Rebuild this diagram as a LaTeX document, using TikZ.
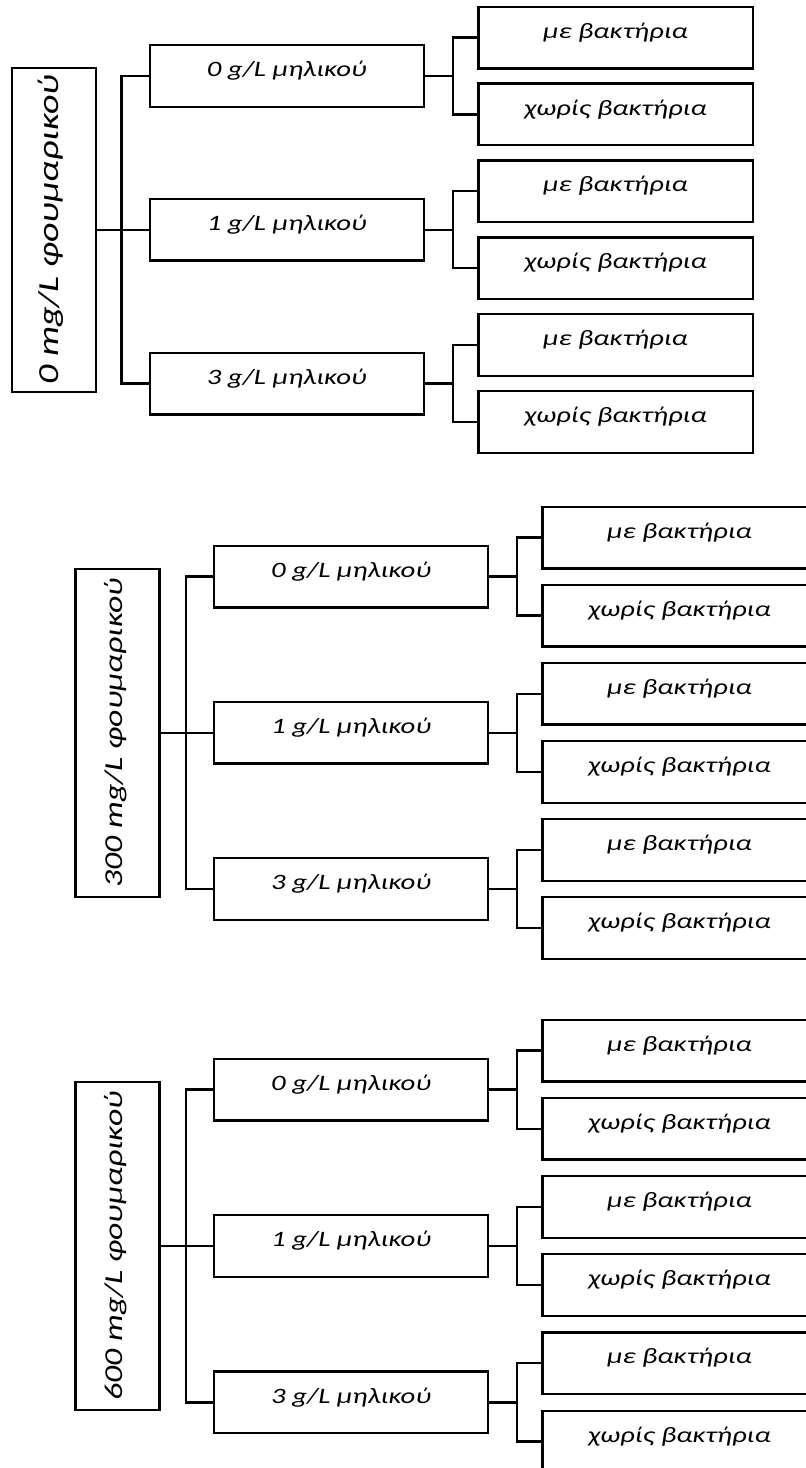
\documentclass[tikz,border=0pt]{standalone}
\usepackage{fontspec}
\newfontfamily\labelfont{Carlito}[FakeStretch=1.31]
\usepackage{tikz}

\tikzset{
  dose/.style 2 args={draw, line width=2.3pt, rotate=90, inner sep=0pt,
    font=\labelfont\itshape\fontsize{#2}{#2}\selectfont,
    text height=46.6pt, text depth=37.4pt, minimum width=#1},
  malic/.style={draw, line width=2.3pt, inner ysep=0pt, minimum width=274.3pt,
    font=\labelfont\itshape\fontsize{22}{26}\selectfont,
    text height=31.5pt, text depth=30.2pt},
  bact/.style={malic},
  link/.style={line width=2.3pt}
}

\begin{document}
\begin{tikzpicture}[x=1pt, y=-1pt]
    \clip (0,0) rectangle (806,1468);

    % 0 mg/L
    \node[dose={324pt}{29.1}] (f0) at (53.7,229.75) {0 mg/L φουμαρικού};
    \node[malic] (a01) at (286.85,75.95) {0 g/L μηλικού};
    \node[malic] (a02) at (286.85,229.75) {1 g/L μηλικού};
    \node[malic] (a03) at (286.85,383.55) {3 g/L μηλικού};
    \node[bact] (b01) at (615.5,37.5) {με βακτήρια};
    \node[bact] (b02) at (615.5,114.4) {χωρίς βακτήρια};
    \node[bact] (b03) at (615.5,191.3) {με βακτήρια};
    \node[bact] (b04) at (615.5,268.2) {χωρίς βακτήρια};
    \node[bact] (b05) at (615.5,345.1) {με βακτήρια};
    \node[bact] (b06) at (615.5,422) {χωρίς βακτήρια};
    \draw[link] (f0.south) -- (a02.west);
    \draw[link] (a01.west) -- ++(-27pt,0) |- (a03.west);
    \draw[link] (a01.east) -- ++(27.7pt,0) coordinate (c01) |- (b01.west) (c01) |- (b02.west);
    \draw[link] (a02.east) -- ++(27.7pt,0) coordinate (c02) |- (b03.west) (c02) |- (b04.west);
    \draw[link] (a03.east) -- ++(27.7pt,0) coordinate (c03) |- (b05.west) (c03) |- (b06.west);

    % 300 mg/L
    \node[dose={328pt}{25.8}] (f300) at (117.5,732.75) {300 mg/L φουμαρικού};
    \node[malic] (a31) at (351.15,576.55) {0 g/L μηλικού};
    \node[malic] (a32) at (351.15,732.75) {1 g/L μηλικού};
    \node[malic] (a33) at (351.15,888.95) {3 g/L μηλικού};
    \node[bact] (b31) at (679.5,537.5) {με βακτήρια};
    \node[bact] (b32) at (679.5,615.6) {χωρίς βακτήρια};
    \node[bact] (b33) at (679.5,693.7) {με βακτήρια};
    \node[bact] (b34) at (679.5,771.8) {χωρίς βακτήρια};
    \node[bact] (b35) at (679.5,849.9) {με βακτήρια};
    \node[bact] (b36) at (679.5,928) {χωρίς βακτήρια};
    \draw[link] (f300.south) -- (a32.west);
    \draw[link] (a31.west) -- ++(-27pt,0) |- (a33.west);
    \draw[link] (a31.east) -- ++(27.7pt,0) coordinate (c31) |- (b31.west) (c31) |- (b32.west);
    \draw[link] (a32.east) -- ++(27.7pt,0) coordinate (c32) |- (b33.west) (c32) |- (b34.west);
    \draw[link] (a33.east) -- ++(27.7pt,0) coordinate (c33) |- (b35.west) (c33) |- (b36.west);

    % 600 mg/L
    \node[dose={328pt}{25.8}] (f600) at (117.5,1246) {600 mg/L φουμαρικού};
    \node[malic] (a61) at (351.15,1089.6) {0 g/L μηλικού};
    \node[malic] (a62) at (351.15,1246) {1 g/L μηλικού};
    \node[malic] (a63) at (351.15,1402.4) {3 g/L μηλικού};
    \node[bact] (b61) at (679.5,1050.5) {με βακτήρια};
    \node[bact] (b62) at (679.5,1128.7) {χωρίς βακτήρια};
    \node[bact] (b63) at (679.5,1206.9) {με βακτήρια};
    \node[bact] (b64) at (679.5,1285.1) {χωρίς βακτήρια};
    \node[bact] (b65) at (679.5,1363.3) {με βακτήρια};
    \node[bact] (b66) at (679.5,1441.5) {χωρίς βακτήρια};
    \draw[link] (f600.south) -- (a62.west);
    \draw[link] (a61.west) -- ++(-27pt,0) |- (a63.west);
    \draw[link] (a61.east) -- ++(27.7pt,0) coordinate (c61) |- (b61.west) (c61) |- (b62.west);
    \draw[link] (a62.east) -- ++(27.7pt,0) coordinate (c62) |- (b63.west) (c62) |- (b64.west);
    \draw[link] (a63.east) -- ++(27.7pt,0) coordinate (c63) |- (b65.west) (c63) |- (b66.west);

\end{tikzpicture}
\end{document}
